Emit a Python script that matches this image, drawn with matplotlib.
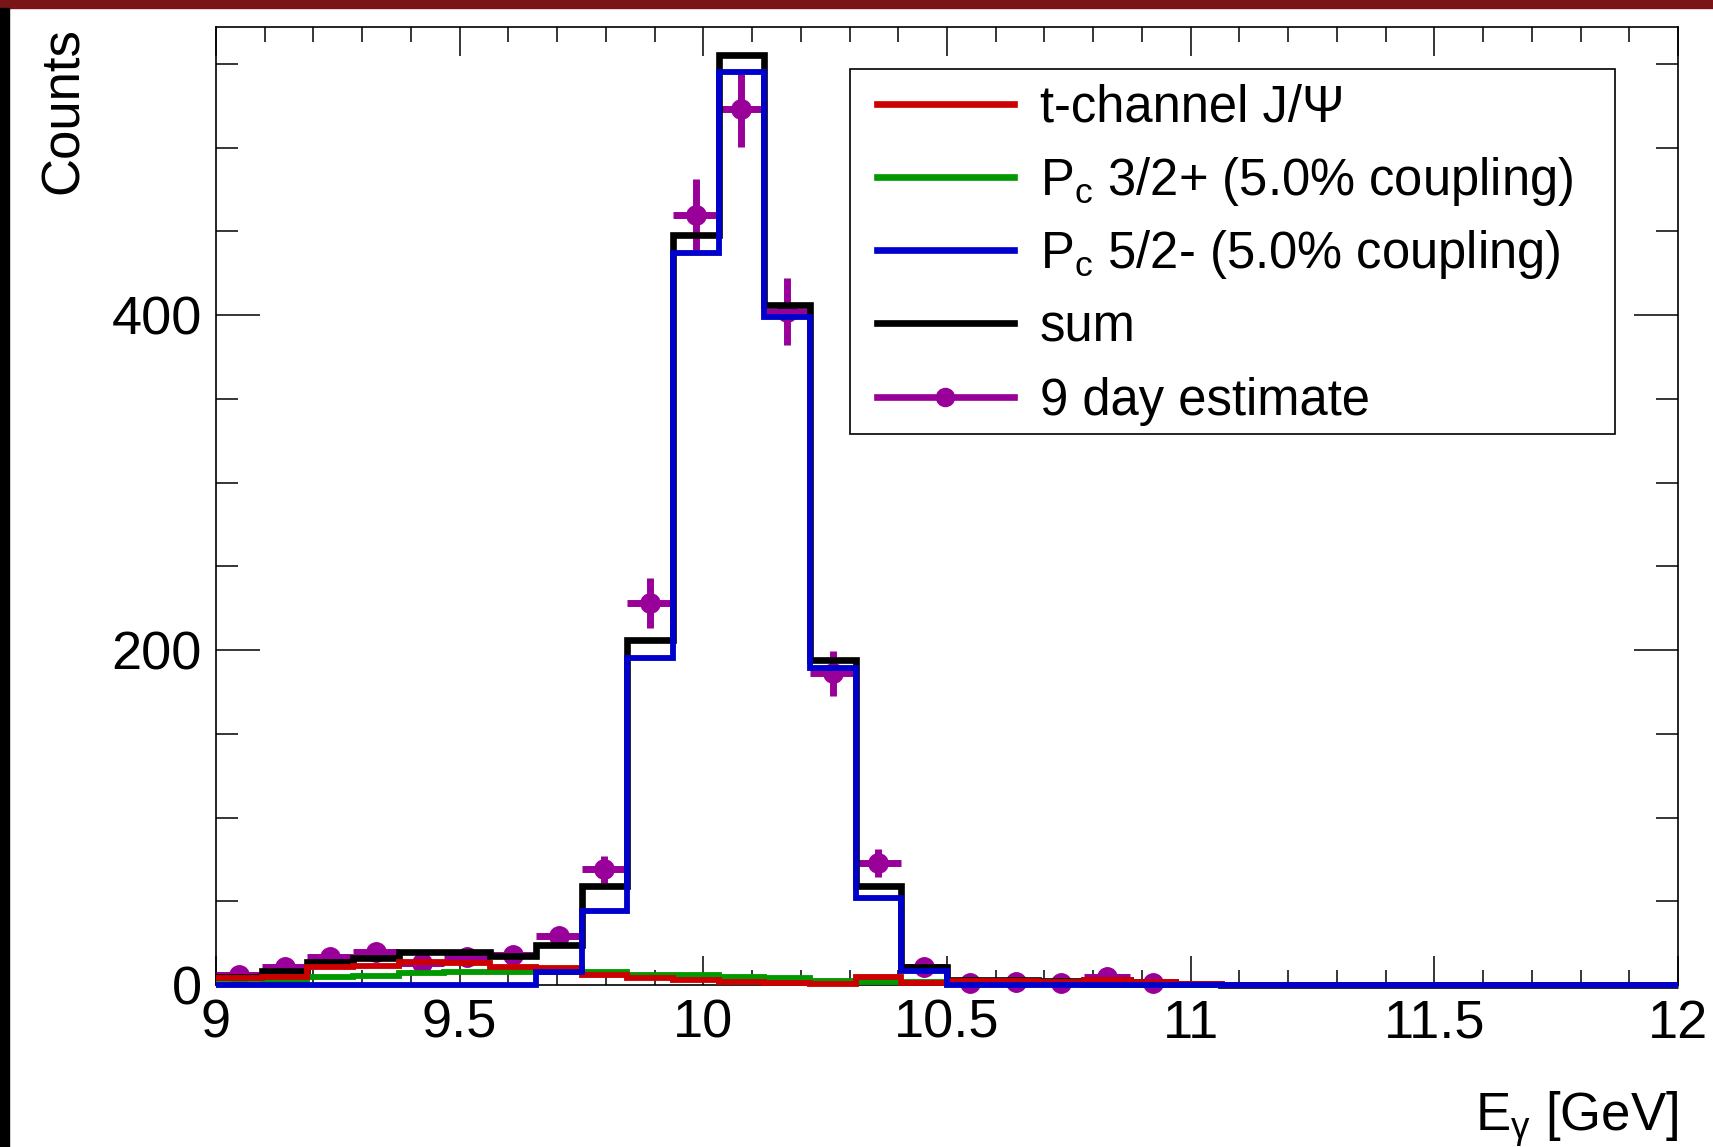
import numpy as np
import matplotlib
matplotlib.use('Agg')
import matplotlib.pyplot as plt
from matplotlib.ticker import MultipleLocator, FormatStrFormatter
from matplotlib.lines import Line2D
from matplotlib.patches import Rectangle

plt.rcParams['font.family'] = ['Liberation Sans', 'DejaVu Sans']
plt.rcParams['mathtext.fontset'] = 'custom'
plt.rcParams['mathtext.rm'] = 'Liberation Sans'
plt.rcParams['mathtext.it'] = 'Liberation Sans:italic'

# 32 bins of E_gamma between 9 and 12 GeV
edges = np.linspace(9.0, 12.0, 33)

tchannel = [4, 5, 10.5, 11.5, 13.5, 13.3, 10.7, 10, 6, 4, 3.2, 2, 1, 0.5, 4.8, 1,
            2.5, 2.5, 2, 2.7, 1.5, 0.5, 0, 0, 0, 0, 0, 0, 0, 0, 0, 0]
pc32 = [0.5, 2.5, 4.5, 5.5, 7, 7.5, 8, 8, 7.5, 6, 6, 4.8, 4, 2.5, 2, 1.5,
        0.5, 0.5, 0.3, 0.2, 0, 0, 0, 0, 0, 0, 0, 0, 0, 0, 0, 0]
pc52 = [0, 0, 0, 0, 0, 0, 0, 8, 44, 195, 437, 545, 399, 189, 52, 8.5,
        0, 0, 0, 0, 0, 0, 0, 0, 0, 0, 0, 0, 0, 0, 0, 0]
total = [5, 8.5, 13.7, 16, 20, 19.6, 17.3, 24, 59, 206, 448, 555, 406, 194, 59, 11,
         3, 3, 2.5, 3, 1.5, 0.5, 0, 0, 0, 0, 0, 0, 0, 0, 0, 0]

# 9 day estimate (first 21 bins)
est_counts = [6, 11, 17, 20, 13, 17, 18, 29, 69, 228, 460, 523, 402, 186, 73, 11,
              1, 2, 1, 4.5, 1]
est_err = [2.5, 3.3, 4.1, 4.5, 3.6, 4.1, 4.2, 5.4, 8.3, 15.1, 21.4, 22.9, 20.0, 13.6, 8.5, 3.3,
           1, 1.4, 1, 2.1, 1]

RED, GREEN, BLUE, MAG = '#cc0000', '#009900', '#0000cc', '#990099'


def main():
    fig = plt.figure(figsize=(17.13, 11.47), dpi=100)
    W, H = 1713, 1147
    L, R, T, B = 216, 1678, 27, 985
    ax = fig.add_axes([L / W, 1 - B / H, (R - L) / W, (B - T) / H])

    # border decorations of the slide
    fig.patches.append(Rectangle((0, 1 - 8 / H), 1, 8 / H, transform=fig.transFigure,
                                 color='#7a1517', zorder=0))
    fig.patches.append(Rectangle((0, 0), 8.5 / W, 1 - 8 / H, transform=fig.transFigure,
                                 color='black', zorder=0))

    centers = 0.5 * (edges[:-1] + edges[1:])
    n = len(est_counts)
    ax.errorbar(centers[:n], est_counts, yerr=est_err, xerr=(edges[1] - edges[0]) / 2,
                fmt='o', color=MAG, ms=14, elinewidth=5, capsize=0, zorder=3, clip_on=False)

    ax.stairs(total, edges, baseline=None, color='black', lw=4.8, zorder=4, clip_on=False)
    ax.stairs(pc32, edges, baseline=None, color=GREEN, lw=4.2, zorder=5, clip_on=False)
    ax.stairs(tchannel, edges, baseline=None, color=RED, lw=4.2, zorder=6, clip_on=False)
    ax.stairs(pc52, edges, baseline=None, color=BLUE, lw=4.2, zorder=7, clip_on=False)

    ax.set_xlim(9, 12)
    ax.set_ylim(0, 572)
    ax.xaxis.set_major_locator(MultipleLocator(0.5))
    ax.xaxis.set_minor_locator(MultipleLocator(0.1))
    ax.yaxis.set_major_locator(MultipleLocator(200))
    ax.yaxis.set_minor_locator(MultipleLocator(50))
    ax.xaxis.set_major_formatter(FormatStrFormatter('%g'))
    ax.tick_params(axis='both', which='both', direction='in', top=True, right=True,
                   width=1.1, color='black')
    ax.tick_params(axis='x', which='major', length=21, pad=10, labelsize=39)
    ax.tick_params(axis='x', which='minor', length=10.5)
    ax.tick_params(axis='y', which='major', length=31.6, pad=10, labelsize=39)
    ax.tick_params(axis='y', which='minor', length=15.8)
    for sp in ax.spines.values():
        sp.set_linewidth(1.2)

    fig.text(64 / W, 1 - T / H, 'Counts', rotation=90, ha='center', va='top', fontsize=38)
    fig.text(R / W, 1 - 1131 / H, r'E$_{\mathregular{γ}}$ [GeV]', ha='right', va='baseline',
             fontsize=38)

    # legend box drawn by hand to follow the ROOT layout
    def axx(px):
        return (px - L) / (R - L)

    def axy(py):
        return (B - py) / (B - T)

    ax.add_patch(Rectangle((axx(850), axy(434)), (1615 - 850) / (R - L), (434 - 69) / (B - T),
                           transform=ax.transAxes, fc='white', ec='black', lw=1.2,
                           zorder=10, clip_on=False))
    labels = [r't-channel J/Ψ',
              r'P$_\mathregular{c}$ 3/2+ (5.0% coupling)',
              r'P$_\mathregular{c}$ 5/2- (5.0% coupling)',
              'sum',
              '9 day estimate']
    colors = [RED, GREEN, BLUE, 'black', MAG]
    rows = [104, 177, 250, 323, 397]
    for lab, col, ry in zip(labels, colors, rows):
        ax.add_line(Line2D([axx(877), axx(1014)], [axy(ry), axy(ry)], color=col, lw=4.8,
                           transform=ax.transAxes, zorder=11, clip_on=False))
        ax.text(axx(1040), axy(ry + 18), lab, transform=ax.transAxes, ha='left',
                va='baseline', fontsize=36.5, zorder=11)
    ax.add_line(Line2D([axx(945.5)], [axy(rows[-1])], marker='o', ms=13, color=MAG,
                       transform=ax.transAxes, zorder=12, clip_on=False))

    fig.savefig('out.png', dpi=100)


if __name__ == '__main__':
    main()
